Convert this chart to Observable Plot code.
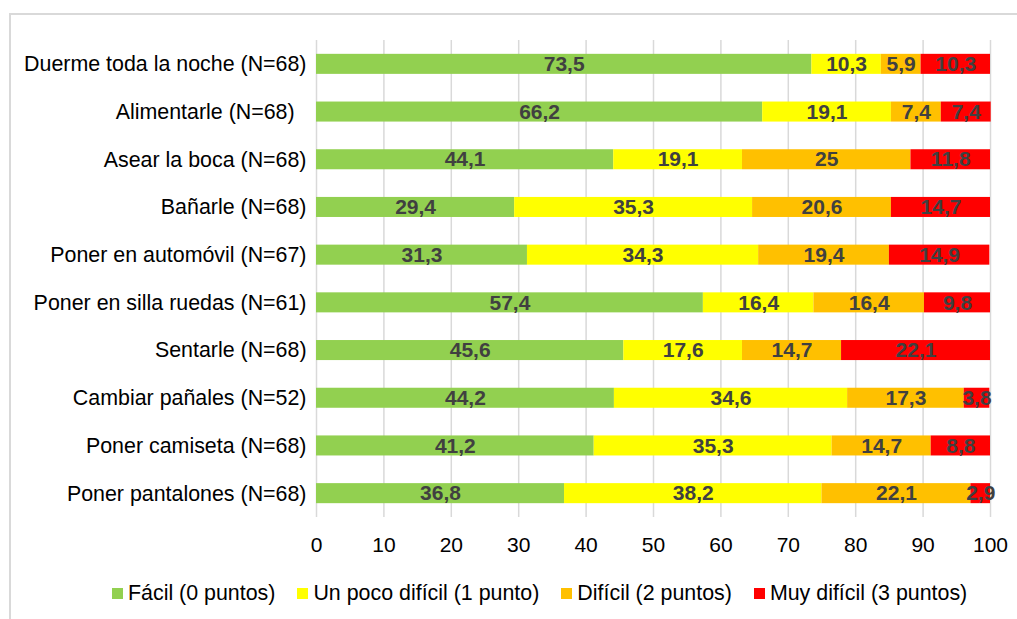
<!DOCTYPE html>
<html>
<head>
<meta charset="utf-8">
<script src="https://cdn.jsdelivr.net/npm/d3@7"></script>
<script src="https://cdn.jsdelivr.net/npm/@observablehq/plot@0.6"></script>
<style>
  html, body { margin: 0; padding: 0; background: #fff; }
  body { width: 1017px; height: 619px; position: relative; overflow: hidden; font-family: "Liberation Sans", Arial, sans-serif; }
  #frame { position: absolute; left: 9px; top: 13px; width: 1100px; height: 700px; border-top: 2px solid #d9d9d9; border-left: 2px solid #d9d9d9; }
  #chart { position: absolute; left: 0; top: 0; }
  #legend { position: absolute; left: 112px; top: 580px; display: flex; align-items: center; font-size: 21.4px; line-height: 26px; color: #000; white-space: nowrap; }
  .item { display: flex; align-items: center; margin-right: 22px; }
  .sw { width: 11px; height: 11px; margin-right: 5px; }
</style>
</head>
<body>
<div id="frame"></div>
<div id="chart"></div>
<div id="legend"></div>
<script>
const categories = [
  "Duerme toda la noche (N=68)",
  "Alimentarle (N=68)\u00a0\u00a0",
  "Asear la boca (N=68)",
  "Bañarle (N=68)",
  "Poner en automóvil (N=67)",
  "Poner en silla ruedas (N=61)",
  "Sentarle (N=68)",
  "Cambiar pañales (N=52)",
  "Poner camiseta (N=68)",
  "Poner pantalones (N=68)"
];
const seriesNames = ["Fácil (0 puntos)", "Un poco difícil (1 punto)", "Difícil (2 puntos)", "Muy difícil (3 puntos)"];
const seriesColors = ["#92d050", "#ffff00", "#ffc000", "#ff0000"];
const facil      = [73.5, 66.2, 44.1, 29.4, 31.3, 57.4, 45.6, 44.2, 41.2, 36.8];
const unPoco     = [10.3, 19.1, 19.1, 35.3, 34.3, 16.4, 17.6, 34.6, 35.3, 38.2];
const dificil    = [5.9, 7.4, 25, 20.6, 19.4, 16.4, 14.7, 17.3, 14.7, 22.1];
const muyDificil = [10.3, 7.4, 11.8, 14.7, 14.9, 9.8, 22.1, 3.8, 8.8, 2.9];
const xTicks = [0, 10, 20, 30, 40, 50, 60, 70, 80, 90, 100];

const seriesValues = [facil, unPoco, dificil, muyDificil];
const data = [];
categories.forEach((c, i) => {
  seriesNames.forEach((s, j) => {
    data.push({cat: c, serie: s, value: seriesValues[j][i]});
  });
});
const fmt = v => String(v).replace(".", ",");

const chart = Plot.plot({
  width: 1017,
  height: 570,
  marginLeft: 316,
  marginRight: 27,
  marginTop: 40,
  marginBottom: 53,
  style: {fontFamily: '"Liberation Sans", Arial, sans-serif', fontSize: "21px", color: "#000", background: "transparent"},
  x: {domain: [0, 100], ticks: xTicks, tickSize: 0, tickPadding: 20, label: null, tickFormat: d => String(d)},
  y: {domain: categories, paddingInner: 0.58, paddingOuter: 0.29, round: false, tickSize: 0, tickPadding: 10, label: null},
  color: {domain: seriesNames, range: seriesColors},
  marks: [
    Plot.ruleX(xTicks, {stroke: "#d9d9d9", strokeWidth: 1.5}),
    Plot.barX(data, Plot.stackX({x: "value", y: "cat", z: "serie", fill: "serie", order: seriesNames})),
    Plot.text(data, Plot.stackX({x: "value", y: "cat", z: "serie", order: seriesNames, text: d => fmt(d.value), fill: "#404040", fontWeight: "bold", fontSize: 21})),
    Plot.axisY({tickSize: 0, tickPadding: 10, fontSize: 21.4, label: null})
  ]
});
document.getElementById("chart").appendChild(chart);

const legend = document.getElementById("legend");
seriesNames.forEach((s, j) => {
  const it = document.createElement("div");
  it.className = "item";
  const sw = document.createElement("div");
  sw.className = "sw";
  sw.style.background = seriesColors[j];
  const t = document.createElement("span");
  t.textContent = s;
  it.appendChild(sw);
  it.appendChild(t);
  legend.appendChild(it);
});
</script>
</body>
</html>
